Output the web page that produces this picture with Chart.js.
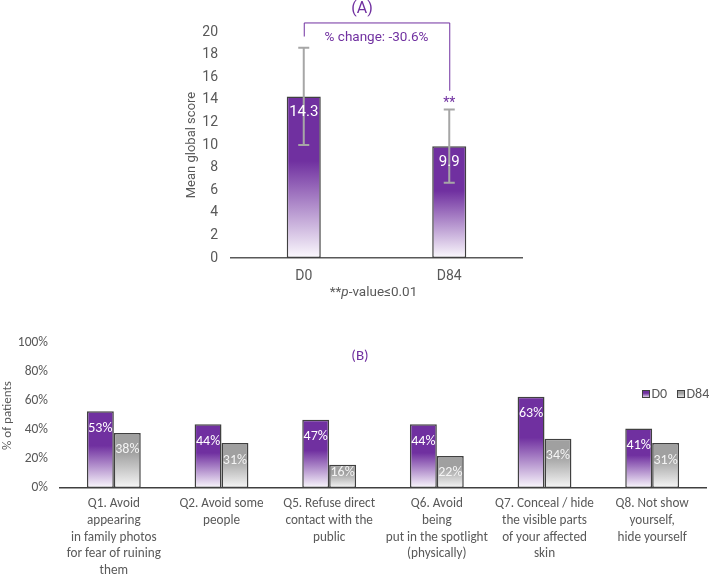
<!DOCTYPE html>
<html>
<head>
<meta charset="utf-8">
<script src="https://cdn.jsdelivr.net/npm/chart.js@4.4.1/dist/chart.umd.min.js"></script>
<style>
  body { margin: 0; background: #fff; }
  #boxA { position: absolute; left: 0; top: 0; width: 709px; height: 300px; }
  #boxB { position: absolute; left: 0; top: 300px; width: 709px; height: 275px; }
</style>
</head>
<body>
<div id="boxA"><canvas id="chartA"></canvas></div>
<div id="boxB"><canvas id="chartB"></canvas></div>
<script>
// (A) mean global score
const timepoints = ["D0", "D84"];
const meanScores = [14.3, 9.9];
const scoreSD = [4.3, 3.25];
const yTicksA = [0, 2, 4, 6, 8, 10, 12, 14, 16, 18, 20];

// (B) % of patients per question
const questions = [
    ["Q1. Avoid", "appearing", "in family photos", "for fear of ruining", "them"],
    ["Q2. Avoid some", "people"],
    ["Q5. Refuse direct", "contact with the", "public"],
    ["Q6. Avoid", "being", "put in the spotlight", "(physically)"],
    ["Q7. Conceal / hide", "the visible parts", "of your affected", "skin"],
    ["Q8. Not show", "yourself,", "hide yourself"]
];
const pctD0 = [53, 44, 47, 44, 63, 41];
const pctD84 = [38, 31, 16, 22, 34, 31];
const yTicksB = [0, 20, 40, 60, 80, 100];

const PURPLE = "#7030A0";
const TXT = "#595959";
const fontA = "Roboto, 'Noto Sans', sans-serif";
const fontB = "Carlito, Lato, 'Noto Sans', sans-serif";

// gradient fill, solid at the top then fading to white at the base
function barFill(top, stopAt, bottomColor) {
    return (c) => {
        const chart = c.chart;
        if (!chart.chartArea || c.type !== "data") return top;
        const y = chart.scales.y;
        const y0 = y.getPixelForValue(c.raw);
        const y1 = y.getPixelForValue(0);
        const g = chart.ctx.createLinearGradient(0, y0, 0, y1);
        g.addColorStop(0, top);
        g.addColorStop(stopAt, top);
        g.addColorStop(1, bottomColor);
        return g;
    };
}

// white labels just below the top of each bar (kept inside short bars)
const barLabels = {
    id: "barLabels",
    afterDatasetsDraw(chart, args, opts) {
        const ctx = chart.ctx;
        ctx.save();
        ctx.font = opts.font;
        ctx.textAlign = "center";
        ctx.textBaseline = "middle";
        chart.data.datasets.forEach((ds, i) => {
            chart.getDatasetMeta(i).data.forEach((el, j) => {
                ctx.fillStyle = opts.colors[i];
                const ty = Math.min(el.y + opts.offset, el.base - opts.minGap);
                ctx.fillText(opts.format(ds.data[j]), el.x, ty);
            });
        });
        ctx.restore();
    }
};

// error bars + bracket + notes for (A)
const annotA = {
    id: "annotA",
    afterDatasetsDraw(chart) {
        const ctx = chart.ctx;
        const y = chart.scales.y;
        const bars = chart.getDatasetMeta(0).data;
        ctx.save();
        ctx.strokeStyle = "#A6A6A6";
        ctx.lineWidth = 2;
        bars.forEach((el, i) => {
            const hi = y.getPixelForValue(meanScores[i] + scoreSD[i]);
            const lo = y.getPixelForValue(meanScores[i] - scoreSD[i]);
            ctx.beginPath();
            ctx.moveTo(el.x, hi); ctx.lineTo(el.x, lo);
            ctx.moveTo(el.x - 5.5, hi); ctx.lineTo(el.x + 5.5, hi);
            ctx.moveTo(el.x - 5.5, lo); ctx.lineTo(el.x + 5.5, lo);
            ctx.stroke();
        });
        ctx.restore();
    },
    afterDraw(chart) {
        const ctx = chart.ctx;
        const y = chart.scales.y;
        const area = chart.chartArea;
        const bars = chart.getDatasetMeta(0).data;
        const x0 = bars[0].x, x1 = bars[1].x;
        ctx.save();
        // bracket
        ctx.strokeStyle = PURPLE;
        ctx.lineWidth = 1;
        ctx.beginPath();
        ctx.moveTo(x0 + 0.5, y.getPixelForValue(19.6));
        ctx.lineTo(x0 + 0.5, y.getPixelForValue(20.8));
        ctx.lineTo(x1 + 0.5, y.getPixelForValue(20.8));
        ctx.lineTo(x1 + 0.5, y.getPixelForValue(14.8));
        ctx.stroke();
        ctx.fillStyle = PURPLE;
        ctx.textAlign = "center";
        ctx.textBaseline = "middle";
        ctx.font = "13.5px " + fontA;
        ctx.fillText("% change: -30.6%", (x0 + x1) / 2, y.getPixelForValue(19.5));
        ctx.font = "14px " + fontA;
        ctx.fillText("**", x1, y.getPixelForValue(13.7));
        ctx.font = "16px " + fontA;
        ctx.fillText("(A)", 362, 9);
        // p-value note under the axis
        ctx.fillStyle = TXT;
        const parts = [["**", "normal"], ["p", "italic"], ["-value\u22640.01", "normal"]];
        let total = 0;
        parts.forEach(p => { ctx.font = p[1] + " 13.5px " + fontA; p.push(ctx.measureText(p[0]).width); total += p[2]; });
        let x = (area.left + area.right) / 2 - 3 - total / 2;
        ctx.textAlign = "left";
        parts.forEach(p => { ctx.font = p[1] + " 13.5px " + fontA; ctx.fillText(p[0], x, 293); x += p[2]; });
        ctx.restore();
    }
};

new Chart(document.getElementById("chartA"), {
    type: "bar",
    data: {
        labels: timepoints,
        datasets: [{
            data: meanScores,
            backgroundColor: barFill(PURPLE, 0.4, "#FBF9FD"),
            borderColor: "#404040",
            borderWidth: 1.5,
            borderSkipped: false,
            categoryPercentage: 1,
            barPercentage: 0.234
        }]
    },
    options: {
        responsive: true,
        maintainAspectRatio: false,
        animation: false,
        layout: { padding: { left: 180, top: 32, right: 187, bottom: 0 } },
        plugins: {
            legend: { display: false },
            tooltip: { enabled: false },
            barLabels: { font: "15px " + fontA, colors: ["#ffffff"], offset: 16, minGap: 10, format: v => v.toFixed(1) }
        },
        scales: {
            x: {
                grid: { display: false, drawTicks: false },
                border: { display: true, color: "#595959", width: 1.5 },
                ticks: { color: TXT, font: { family: fontA, size: 14 }, padding: 10 },
                afterFit: (s) => { s.height = 42; }
            },
            y: {
                min: 0, max: 20,
                afterBuildTicks: (s) => { s.ticks = yTicksA.map(v => ({ value: v })); },
                grid: { display: false, drawTicks: false },
                border: { display: false },
                ticks: { color: TXT, font: { family: fontA, size: 14 }, padding: 13 },
                title: { display: true, text: "Mean global score", color: TXT, font: { family: fontA, size: 13 }, padding: 4 },
                afterFit: (s) => { s.width = 51; }
            }
        }
    },
    plugins: [annotA, barLabels]
});

// legend + panel label for (B)
const annotB = {
    id: "annotB",
    afterDraw(chart) {
        const ctx = chart.ctx;
        const area = chart.chartArea;
        ctx.save();
        ctx.fillStyle = PURPLE;
        ctx.font = "15px " + fontB;
        ctx.textAlign = "center";
        ctx.textBaseline = "middle";
        ctx.fillText("(B)", 360, 56);
        // legend
        const items = [["D0", PURPLE], ["D84", "#A0A0A0"]];
        let x = area.right - 64;
        const yc = 94;
        ctx.textAlign = "left";
        ctx.font = "14px " + fontB;
        items.forEach(([name, col]) => {
            const g = ctx.createLinearGradient(0, yc - 4, 0, yc + 4);
            g.addColorStop(0, col); g.addColorStop(0.4, col); g.addColorStop(1, "#F5F5F5");
            ctx.fillStyle = g;
            ctx.fillRect(x, yc - 4, 7, 7);
            ctx.strokeStyle = "#404040";
            ctx.lineWidth = 1;
            ctx.strokeRect(x + 0.5, yc - 3.5, 7, 7);
            ctx.fillStyle = TXT;
            ctx.fillText(name, x + 9.5, yc);
            x += 35;
        });
        ctx.restore();
    }
};

new Chart(document.getElementById("chartB"), {
    type: "bar",
    data: {
        labels: questions,
        datasets: [{
            label: "D0",
            data: pctD0,
            backgroundColor: barFill(PURPLE, 0.45, "#FBF9FD"),
            borderColor: "#404040",
            borderWidth: 1.5,
            borderSkipped: false,
            categoryPercentage: 0.5,
            barPercentage: 1
        }, {
            label: "D84",
            data: pctD84,
            backgroundColor: barFill("#A0A0A0", 0.35, "#F7F7F7"),
            borderColor: "#404040",
            borderWidth: 1.5,
            borderSkipped: false,
            categoryPercentage: 0.5,
            barPercentage: 1
        }]
    },
    options: {
        responsive: true,
        maintainAspectRatio: false,
        animation: false,
        layout: { padding: { left: 0, top: 43, right: 3, bottom: 0 } },
        plugins: {
            legend: { display: false },
            tooltip: { enabled: false },
            barLabels: { font: "14px " + fontB, colors: ["#ffffff", "#F4F4F4"], offset: 17, minGap: 16, format: v => v + "%" }
        },
        scales: {
            x: {
                grid: { display: false, drawTicks: false },
                border: { display: true, color: "#404040", width: 1.5 },
                ticks: { color: TXT, font: { family: fontB, size: 13.2, lineHeight: 1.265 }, padding: 7.5, maxRotation: 0, autoSkip: false },
                afterFit: (s) => { s.height = 87; }
            },
            y: {
                min: 0, max: 100,
                afterBuildTicks: (s) => { s.ticks = yTicksB.map(v => ({ value: v })); },
                grid: { display: false, drawTicks: false },
                border: { display: false },
                ticks: { color: TXT, font: { family: fontB, size: 13.5 }, padding: 12, callback: v => v + "%" },
                title: { display: true, text: "% of patients", color: TXT, font: { family: fontB, size: 13 }, padding: 0 },
                afterFit: (s) => { s.width = 60; }
            }
        }
    },
    plugins: [annotB, barLabels]
});
</script>
</body>
</html>
